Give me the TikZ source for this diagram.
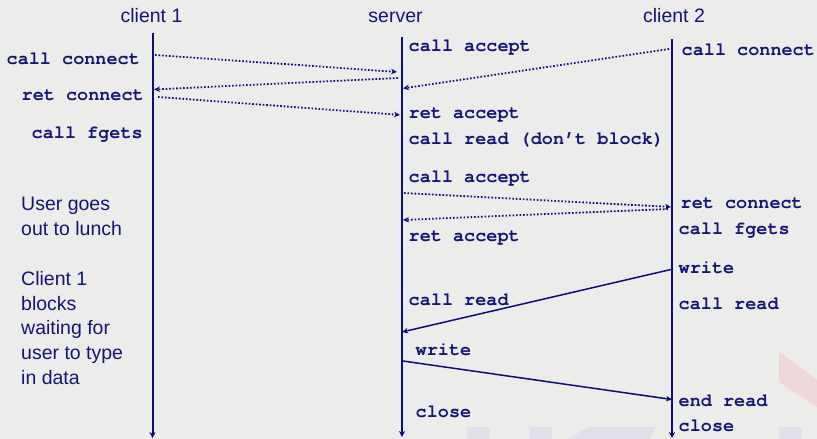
\documentclass[tikz,border=0pt]{standalone}
\usepackage{fontspec}
\setmainfont{Liberation Sans}
\newfontfamily\codefont{TeX Gyre Cursor}
\usetikzlibrary{arrows.meta}

\definecolor{paper}{RGB}{236,236,234}
\definecolor{ink}{RGB}{20,20,118}
\definecolor{wire}{RGB}{12,12,122}
\definecolor{markgrey}{RGB}{224,224,233}
\definecolor{markpink}{RGB}{237,215,219}

\tikzset{
  head/.style={font=\fontsize{19.5}{23}\selectfont, text=ink, anchor=base, inner sep=0pt},
  code/.style={font=\codefont\bfseries\fontsize{18.5}{22}\selectfont, text=ink, anchor=base west, inner sep=0pt},
  note/.style={font=\fontsize{19.5}{24.5}\selectfont, text=ink, anchor=base west, inner sep=0pt},
  lifeline/.style={draw=wire, line width=2pt, -{Stealth[length=6pt,width=6pt]}},
  dotmsg/.style={draw=wire, line width=1.8pt, dash pattern=on 1.6pt off 1.9pt,
    -{Stealth[length=6pt,width=5.5pt]}, shorten >=1pt},
  msg/.style={draw=wire, line width=1.5pt, -{Stealth[length=6pt,width=5.5pt]}}
}

\begin{document}
\begin{tikzpicture}[x=1pt, y=-1pt]
  % canvas
  \fill[paper] (0,0) rectangle (817,439);
  \useasboundingbox (0,0) rectangle (817,439);

  % faint logo in the lower right corner
  \fill[markgrey] (467,427) rectangle (490,439);
  \fill[markgrey] (530,427) rectangle (552,439);
  \fill[markgrey] (568,439) -- (588,427) -- (655,427) -- (650,439) -- cycle;
  \fill[markgrey] (779,427) rectangle (802,439);
  \fill[markpink] (779,352) -- (817,380) -- (817,407) -- (779,382) -- cycle;

  % column headings
  \node[head] (h1) at (151.5,22) {client 1};
  \node[head] (hs) at (395.5,22) {server};
  \node[head] (h2) at (674,22) {client 2};

  % lifelines
  \coordinate (c1top) at (152.5,33);
  \coordinate (c1bot) at (152.5,438);
  \coordinate (svtop) at (402,37);
  \coordinate (svbot) at (402,437);
  \coordinate (c2top) at (672,39);
  \coordinate (c2bot) at (672,438);
  \draw[lifeline] (c1top) -- (c1bot);
  \draw[lifeline] (svtop) -- (svbot);
  \draw[lifeline] (c2top) -- (c2bot);

  % client 1 labels
  \node[code] (a1) at (6.5,64.5) {call connect};
  \node[code] (a2) at (21.5,100) {ret connect};
  \node[code] (a3) at (31.5,138) {call fgets};

  % server labels
  \node[code] (s1) at (408.5,51.5) {call accept};
  \node[code] (s2) at (408.5,118.5) {ret accept};
  \node[code] (s3) at (408.5,144) {call read (don’t block)};
  \node[code] (s4) at (408.5,182) {call accept};
  \node[code] (s5) at (408.5,241) {ret accept};
  \node[code] (s6) at (408.5,305.5) {call read};
  \node[code] (s7) at (415.5,355) {write};
  \node[code] (s8) at (415.5,417) {close};

  % client 2 labels
  \node[code] (b1) at (681.5,55) {call connect};
  \node[code] (b2) at (680.5,208) {ret connect};
  \node[code] (b3) at (678.5,234.5) {call fgets};
  \node[code] (b4) at (678.5,273) {write};
  \node[code] (b5) at (678.5,309) {call read};
  \node[code] (b6) at (678.5,406) {end read};
  \node[code] (b7) at (678.5,431) {close};

  % notes beside client 1
  \node[note] (n1) at (21,210) {User goes};
  \node[note] (n2) at (21,235) {out to lunch};
  \node[note] (n3) at (21,285.5) {Client 1};
  \node[note] (n4) at (21,310) {blocks};
  \node[note] (n5) at (21,334.5) {waiting for};
  \node[note] (n6) at (21,359) {user to type};
  \node[note] (n7) at (21,384) {in data};

  % message end points on the lifelines
  \coordinate (m1a) at (155,55);   \coordinate (m1b) at (398,72);
  \coordinate (m2a) at (398,78);   \coordinate (m2b) at (153,89.5);
  \coordinate (m3a) at (158,97);   \coordinate (m3b) at (401,115);
  \coordinate (m4a) at (669,49);   \coordinate (m4b) at (402,88.5);
  \coordinate (m5a) at (404,193);  \coordinate (m5b) at (672,207);
  \coordinate (m6a) at (668,209);  \coordinate (m6b) at (402,220);
  \coordinate (m7a) at (673,269);  \coordinate (m7b) at (402,332);
  \coordinate (m8a) at (403,361);  \coordinate (m8b) at (672,399.5);

  % connection set-up (dotted)
  \draw[dotmsg] (m1a) -- (m1b);
  \draw[dotmsg] (m2a) -- (m2b);
  \draw[dotmsg] (m3a) -- (m3b);
  \draw[dotmsg] (m4a) -- (m4b);
  \draw[dotmsg] (m5a) -- (m5b);
  \draw[dotmsg] (m6a) -- (m6b);

  % data transfer (solid)
  \draw[msg] (m7a) -- (m7b);
  \draw[msg] (m8a) -- (m8b);
\end{tikzpicture}
\end{document}
